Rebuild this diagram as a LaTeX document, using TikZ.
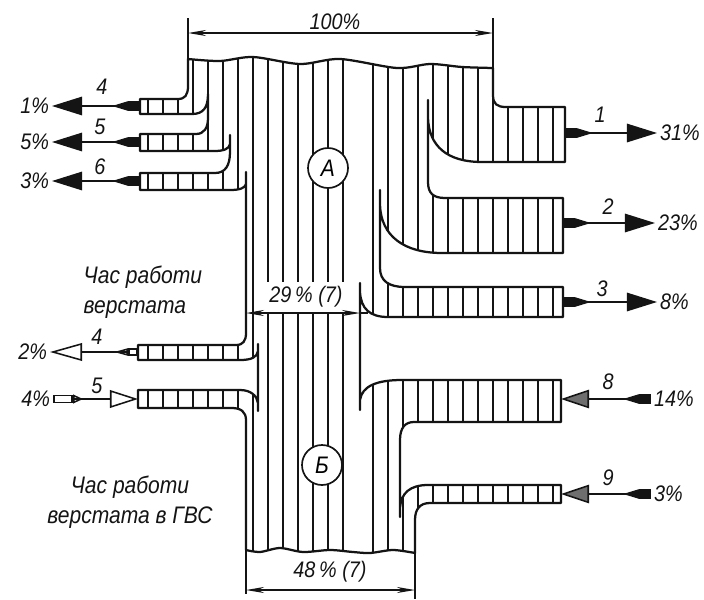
\documentclass[tikz,border=0pt]{standalone}
\usepackage{fontspec}
\setmainfont{Liberation Sans}[FakeStretch=0.88]
\usetikzlibrary{arrows.meta, positioning}
\definecolor{Ink}{HTML}{141414}
\definecolor{Stipple}{HTML}{6E6E6E}
\definecolor{Paper}{HTML}{FFFFFF}
\tikzset{
    outline/.style={draw=Ink, line width=1.6pt, line join=round, line cap=round},
    hatch/.style={draw=Ink, line width=1.1pt},
    tick/.style={draw=Ink, line width=1.2pt},
    dimline/.style={draw=Ink, line width=1.1pt, {Stealth[length=4.5mm,width=1.5mm]}-{Stealth[length=4.5mm,width=1.5mm]}},
    flow/.style={draw=Ink, line width=1.1pt},
    outdark/.style={flow, {Rectangle[length=3mm,width=2.3mm]Triangle[reversed,length=4mm,width=2.3mm]}-{Triangle[length=7.5mm,width=4.6mm]}},
    outopen/.style={flow, {Rectangle[open,length=2.5mm,width=1.8mm]Triangle[reversed,open,length=3.5mm,width=1.8mm]}-{Triangle[open,length=8mm,width=4.4mm]}},
    inopen/.style={flow, {Rectangle[open,length=5mm,width=2.2mm]Triangle[reversed,open,length=2.5mm,width=2.2mm]}-{Triangle[open,length=7mm,width=4.4mm]}},
    instip/.style={flow, {Rectangle[length=3mm,width=2.3mm]Triangle[reversed,length=4mm,width=2.3mm]}-{Triangle[fill=Stipple,length=7mm,width=4.6mm]}},
    pct/.style={font=\itshape\fontsize{16}{18}\selectfont, text=Ink, inner sep=2pt},
    num/.style={font=\itshape\fontsize{16}{18}\selectfont, text=Ink, inner sep=1pt},
    note/.style={font=\itshape\fontsize{17}{21}\selectfont, text=Ink, inner sep=1pt},
    badge/.style={circle, draw=Ink, line width=1.2pt, fill=Paper, minimum size=1cm, inner sep=0pt, font=\itshape\fontsize{17}{19}\selectfont},
}

\begin{document}
\begin{tikzpicture}[x=0.025cm, y=-0.025cm]
    \useasboundingbox[fill=Paper] (0,0) rectangle (704,599);

    % --- Contorno del flusso (A sopra, B sotto) ---
    \path[save path=\streampath] (188,59)
        -- plot[smooth] coordinates {(188,59) (220,61) (253,57) (300,64) (340,59) (397,68) (430,64) (462,67) (493,68)}
        -- (493,95) .. controls (493,104) and (497,107) .. (506,107)
        -- (565,107) -- (565,162) -- (482,162)
        .. controls (447,162) and (429,146) .. (428,118)
        -- (428,100) -- (428,182)
        .. controls (428,193) and (433,198) .. (445,198)
        -- (563,198) -- (563,253) -- (442,253)
        .. controls (404,253) and (381,236) .. (380,205)
        -- (380,190) -- (380,268)
        .. controls (380,281) and (389,287) .. (405,287)
        -- (563,287) -- (563,317) -- (388,317)
        .. controls (370,317) and (361,309) .. (360,292)
        -- (360,283) -- (360,410) -- (360,400)
        .. controls (362,386) and (377,380) .. (402,380)
        -- (561,380) -- (561,422) -- (414,422)
        .. controls (405,422) and (400,428) .. (400,440)
        -- (400,517) -- (400,508)
        .. controls (401,493) and (410,485) .. (428,485)
        -- (561,485) -- (561,503) -- (430,503)
        .. controls (420,503) and (415,509) .. (415,520)
        -- (415,553)
        -- plot[smooth] coordinates {(415,553) (393,550) (370,553) (353,552) (330,550) (303,552) (280,548) (260,552) (246,550)}
        -- (246,420)
        .. controls (246,412) and (241,408) .. (232,408)
        -- (138,408) -- (138,390) -- (240,390)
        .. controls (251,390) and (257,396) .. (258,403)
        -- (258,411) -- (258,344) -- (258,351)
        .. controls (257,357) and (252,360) .. (240,360)
        -- (138,360) -- (138,345) -- (236,345)
        .. controls (243,345) and (246,341) .. (246,333)
        -- (246,172) -- (246,184)
        .. controls (245,188) and (240,190) .. (230,190)
        -- (140,190) -- (140,173) -- (215,173)
        .. controls (225,173) and (230,166) .. (230,152)
        -- (230,135) -- (230,144)
        .. controls (229,149) and (224,151) .. (214,151)
        -- (140,151) -- (140,134) -- (196,134)
        .. controls (204,134) and (208,128) .. (208,118)
        -- (208,94)
        .. controls (208,108) and (203,114) .. (192,114)
        -- (140,114) -- (140,99) -- (178,99)
        .. controls (185,99) and (188,95) .. (188,86) -- cycle;

    % Tratteggio
    \begin{scope}
        \clip[use path=\streampath];
        \foreach \x in {148,163,...,343,373,388,...,553}
            \draw[hatch] (\x,40) -- (\x,570);
    \end{scope}
    \draw[outline, use path=\streampath];

    % Cerchi
    \node[badge] (A) at (328,168) {A};
    \node[badge] (B) at (322,465) {Б};

    % --- Quote ---
    \coordinate (d100L) at (188,33);
    \coordinate (d100R) at (493,33);
    \draw[tick] (188,18) -- (188,59);
    \draw[tick] (493,18) -- (493,68);
    \draw[dimline] (d100L) -- (d100R);
    \node[pct] (t100) at (335,22) {100\%};

    \coordinate (d29L) at (246,313);
    \coordinate (d29R) at (360,313);
    \node[pct, fill=Paper, inner sep=3pt] (t29) at (306,297) {29\,\% (7)};
    \draw[dimline] (d29L) -- (d29R);
    \draw[tick] (d29R) -- ++(8,0);

    \coordinate (d48L) at (246,590);
    \coordinate (d48R) at (415,590);
    \draw[tick] (246,550) -- (246,594);
    \draw[tick] (415,553) -- (415,599);
    \draw[dimline] (d48L) -- (d48R);
    \node[pct] (t48) at (330,572) {48\,\% (7)};

    % --- Uscite a destra ---
    \coordinate (b1) at (565,133);
    \coordinate (b2) at (563,223);
    \coordinate (b3) at (563,302);
    \node[pct, anchor=west] (p1) at (657,133) {31\%};
    \node[pct, anchor=west] (p2) at (655,223) {23\%};
    \node[pct, anchor=west] (p3) at (657,302) {8\%};
    \draw[outdark] (b1) -- (p1.west);
    \draw[outdark] (b2) -- (p2.west);
    \draw[outdark] (b3) -- (p3.west);
    \node[num] (n1) at (600,115) {1};
    \node[num] (n2) at (608,207) {2};
    \node[num] (n3) at (602,289) {3};

    % --- Uscite a sinistra ---
    \coordinate (b4) at (140,106);
    \coordinate (b5) at (140,142);
    \coordinate (b6) at (140,181);
    \node[pct, anchor=east] (q4) at (52,106) {1\%};
    \node[pct, anchor=east] (q5) at (52,142) {5\%};
    \node[pct, anchor=east] (q6) at (52,181) {3\%};
    \draw[outdark] (b4) -- (q4.east);
    \draw[outdark] (b5) -- (q5.east);
    \draw[outdark] (b6) -- (q6.east);
    \node[num] (n4) at (102,87) {4};
    \node[num] (n5) at (100,127) {5};
    \node[num] (n6) at (100,167) {6};

    % --- Ora di lavoro della macchina ---
    \node[note, anchor=west, align=left] (ora) at (82,292) {Час работи\\верстата};
    \coordinate (b4l) at (138,352);
    \coordinate (b5l) at (138,399);
    \node[pct, anchor=east] (q4l) at (50,352) {2\%};
    \node[pct, anchor=east] (q5l) at (53,399) {4\%};
    \draw[outopen] (b4l) -- (q4l.east);
    \draw[inopen] (q5l.east) -- (b5l);
    \node[num] (n4l) at (97,337) {4};
    \node[num] (n5l) at (97,386) {5};

    % --- Ingressi a destra ---
    \coordinate (b8) at (561,399);
    \coordinate (b9) at (561,494);
    \node[pct, anchor=west] (p8) at (651,399) {14\%};
    \node[pct, anchor=west] (p9) at (651,494) {3\%};
    \draw[instip] (p8.west) -- (b8);
    \draw[instip] (p9.west) -- (b9);
    \node[num] (n8) at (608,382) {8};
    \node[num] (n9) at (608,478) {9};

    \node[note, align=center] (oragvs) at (130,502) {Час работи\\верстата в ГВС};
\end{tikzpicture}
\end{document}
